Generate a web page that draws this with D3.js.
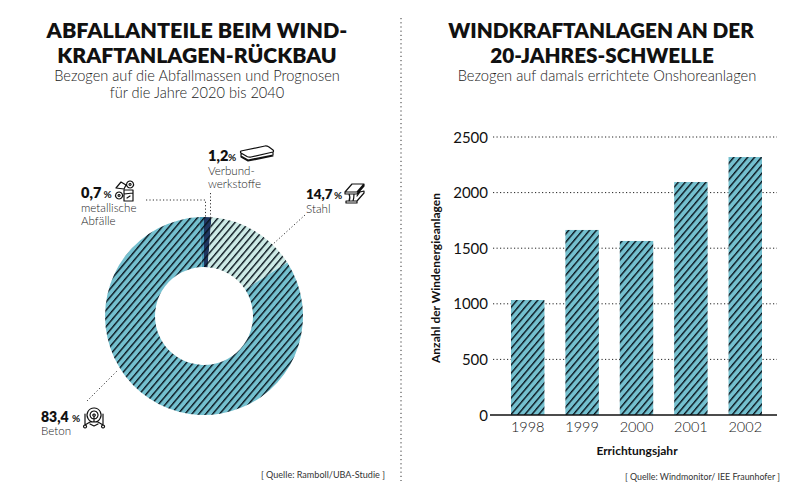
<!DOCTYPE html>
<html>
<head>
<meta charset="utf-8">
<script src="https://cdn.jsdelivr.net/npm/d3@7"></script>
<style>
html, body { margin: 0; padding: 0; background: #fff; }
text { font-family: Lato, "Open Sans", sans-serif; fill: #111; }
</style>
</head>
<body>
<svg id="chart" width="800" height="500"></svg>
<script>
// Daten links: Abfallanteile, im Uhrzeigersinn ab 12 Uhr
var WASTE_NAMES = ["Verbundwerkstoffe", "Stahl", "Beton", "metallische Abfälle"];
var WASTE_SHARES = [1.2, 14.7, 83.4, 0.7];
var WASTE_FILLS = ["#1f3560", "#cdeae6", "#74c0cf", "#4a9cb8"];

// Daten rechts: Anlagen je Errichtungsjahr
var YEARS = ["1998", "1999", "2000", "2001", "2002"];
var TURBINES = [1034, 1664, 1565, 2095, 2320];
var Y_TICKS = [0, 500, 1000, 1500, 2000, 2500];

var svg = d3.select("#chart");
var defs = svg.append("defs");

function hatch(id, color) {
    var p = defs.append("pattern")
        .attr("id", id)
        .attr("width", 5.3)
        .attr("height", 5.3)
        .attr("patternUnits", "userSpaceOnUse")
        .attr("patternTransform", "rotate(40)");
    p.append("rect").attr("width", 5.3).attr("height", 5.3).attr("fill", color);
    p.append("rect").attr("width", 1.4).attr("height", 5.3).attr("fill", "#08141c");
}
WASTE_FILLS.forEach(function(c, i) { hatch("hatch" + i, c); });

function centered(x, y, str, size, weight, fill) {
    return svg.append("text")
        .attr("x", x).attr("y", y)
        .attr("text-anchor", "middle")
        .style("font-size", size + "px")
        .style("font-weight", weight)
        .style("fill", fill || "#111")
        .text(str);
}

function label(x, y, str, size, weight, fill) {
    return centered(x, y, str, size, weight, fill).attr("text-anchor", "start");
}

// Überschriften
centered(197, 38, "ABFALLANTEILE BEIM WIND-", 21.5, 800);
centered(197, 62.5, "KRAFTANLAGEN-RÜCKBAU", 21.2, 800);
centered(197, 80.5, "Bezogen auf die Abfallmassen und Prognosen", 14.6, 300, "#222");
centered(197, 98, "für die Jahre 2020 bis 2040", 14.6, 300, "#222");
centered(601, 38, "WINDKRAFTANLAGEN AN DER", 20.7, 800);
centered(602, 63, "20-JAHRES-SCHWELLE", 20.7, 800);
centered(607, 80.5, "Bezogen auf damals errichtete Onshoreanlagen", 14.7, 300, "#222");

// Trennlinie
svg.append("line")
    .attr("x1", 401).attr("x2", 401).attr("y1", 18).attr("y2", 481)
    .attr("stroke", "#333").attr("stroke-width", 1).attr("stroke-dasharray", "1.2 3");

// Donut
var pie = d3.pie().sort(null).value(function(d) { return d; });
var arc = d3.arc().innerRadius(49).outerRadius(99);
svg.append("g")
    .attr("transform", "translate(204,316)")
    .selectAll("path")
    .data(pie(WASTE_SHARES))
    .join("path")
    .attr("d", arc)
    .attr("fill", function(d, i) { return "url(#hatch" + i + ")"; });

// Führungslinien
var leaders = [
    [[210.5, 193], [210.5, 218]],
    [[146, 200], [205.5, 200], [205.5, 218]],
    [[305, 215], [272, 245]],
    [[87, 401], [117, 371]]
];
var leaderLine = d3.line();
svg.selectAll(".leader")
    .data(leaders)
    .join("path")
    .attr("class", "leader")
    .attr("d", leaderLine)
    .attr("fill", "none")
    .attr("stroke", "#333")
    .attr("stroke-width", 1)
    .attr("stroke-dasharray", "1.2 2.2");

// Beschriftung Donut
label(208, 161, "1,2", 14.5, 800);
label(228, 161, "%", 10, 700);
label(208, 175, "Verbund-", 11.6, 300, "#222");
label(208, 188, "werkstoffe", 11.6, 300, "#222");
label(81, 198, "0,7", 14.5, 800);
label(103.5, 198, "%", 10, 700);
label(81, 212, "metallische", 11.6, 300, "#222");
label(81, 225, "Abfälle", 11.6, 300, "#222");
label(306, 199, "14,7", 13.4, 800);
label(334, 199, "%", 10, 700);
label(306, 213, "Stahl", 11.6, 300, "#222");
label(41, 422, "83,4", 14, 800);
label(72, 422, "%", 10, 700);
label(41, 435, "Beton", 11.6, 300, "#222");

// Icons, nur angedeutet
function icon(x, y, d) {
    svg.append("path")
        .attr("transform", "translate(" + x + "," + y + ")")
        .attr("d", d)
        .attr("fill", "none")
        .attr("stroke", "#111")
        .attr("stroke-width", 1.2)
        .attr("stroke-linejoin", "round")
        .attr("stroke-linecap", "round");
}
// Platten
icon(240, 145, "M1 6 L25 1 Q27 .8 29 2 L33 5 Q34 6 33 7 L11 12 Q9 12.5 7 11.5 L1 8 Q0 7 1 6 Z M1 8 V11 L8 15 L33 10 V7 M1 11 V12 L8 16 L33 11");
// Schrott
icon(114, 180, "M2 8 L7 2 L12 5 L10 9 Z M16 1 a3.5 3.5 0 1 0 .1 0 M16 3.5 a1 1 0 1 0 .1 0 M5 12 a3.5 3.5 0 1 0 .1 0 M5 14.5 a1 1 0 1 0 .1 0 M10 10 H19 V21 H10 Z M10 14 L19 13 M13 18 L16 16");
// Stahlträger
icon(344, 183, "M8 1 H20 L13 9 H1 Z M1 9 V11 H13 L20 3 V1 M5 11 C6 13 6 16 5 18 M2 18 H13 V20 H2 Z M10 11 C10 13 10 15 9 18 M13 18 L20 10 V8 L16 9 L13 13");
// Betonmischer
icon(84, 407, "M10 1 a7 7 0 1 0 .1 0 M10 4 a4 4 0 1 0 .1 0 M10 7 a1.2 1.2 0 1 0 .1 0 M10 9 V15 M1 7 V18 M19 7 V18 M1 18 L6 15 H14 L19 18 M1 18 a1.5 1.5 0 1 0 .1 0 M19 18 a1.5 1.5 0 1 0 .1 0 M6 17 L10 19 L14 17");

// Säulen
var x = d3.scaleBand().domain(YEARS).range([511, 762]).paddingInner(0.385);
var y = d3.scaleLinear().domain([0, 2500]).range([415, 137]);

svg.append("g")
    .selectAll("line")
    .data(Y_TICKS.slice(1))
    .join("line")
    .attr("x1", 493).attr("x2", 777)
    .attr("y1", function(d) { return y(d); })
    .attr("y2", function(d) { return y(d); })
    .attr("stroke", "#222")
    .attr("stroke-width", 1)
    .attr("stroke-dasharray", "1.2 2.3");

svg.append("g")
    .selectAll("rect")
    .data(TURBINES)
    .join("rect")
    .attr("x", function(d, i) { return x(YEARS[i]); })
    .attr("y", function(d) { return y(d); })
    .attr("width", x.bandwidth())
    .attr("height", function(d) { return y(0) - y(d); })
    .attr("fill", "url(#hatch2)");

svg.append("line")
    .attr("x1", 490).attr("x2", 777).attr("y1", y(0)).attr("y2", y(0))
    .attr("stroke", "#111").attr("stroke-width", 1.6);

svg.append("g")
    .selectAll("text")
    .data(Y_TICKS)
    .join("text")
    .attr("x", 488)
    .attr("y", function(d) { return y(d) + 5.5; })
    .attr("text-anchor", "end")
    .style("font-size", "15px")
    .text(function(d) { return d; });

svg.append("g")
    .selectAll("text")
    .data(YEARS)
    .join("text")
    .attr("x", function(d) { return x(d) + x.bandwidth() / 2; })
    .attr("y", 432)
    .attr("text-anchor", "middle")
    .style("font-size", "14.5px")
    .style("font-weight", 300)
    .text(function(d) { return d; });

centered(637, 455, "Errichtungsjahr", 12, 700);
svg.append("text")
    .attr("transform", "translate(440,278) rotate(-90)")
    .attr("text-anchor", "middle")
    .style("font-size", "12px")
    .style("font-weight", 700)
    .text("Anzahl der Windenergieanlagen");

// Quellen, im Original schmal gesetzt
label(261, 478, "[ Quelle:  Ramboll/UBA-Studie ]", 10, 400, "#333")
    .attr("textLength", 124).attr("lengthAdjust", "spacingAndGlyphs");
label(625, 480, "[ Quelle: Windmonitor/ IEE Fraunhofer ]", 10, 400, "#333")
    .attr("textLength", 155).attr("lengthAdjust", "spacingAndGlyphs");
</script>
</body>
</html>
